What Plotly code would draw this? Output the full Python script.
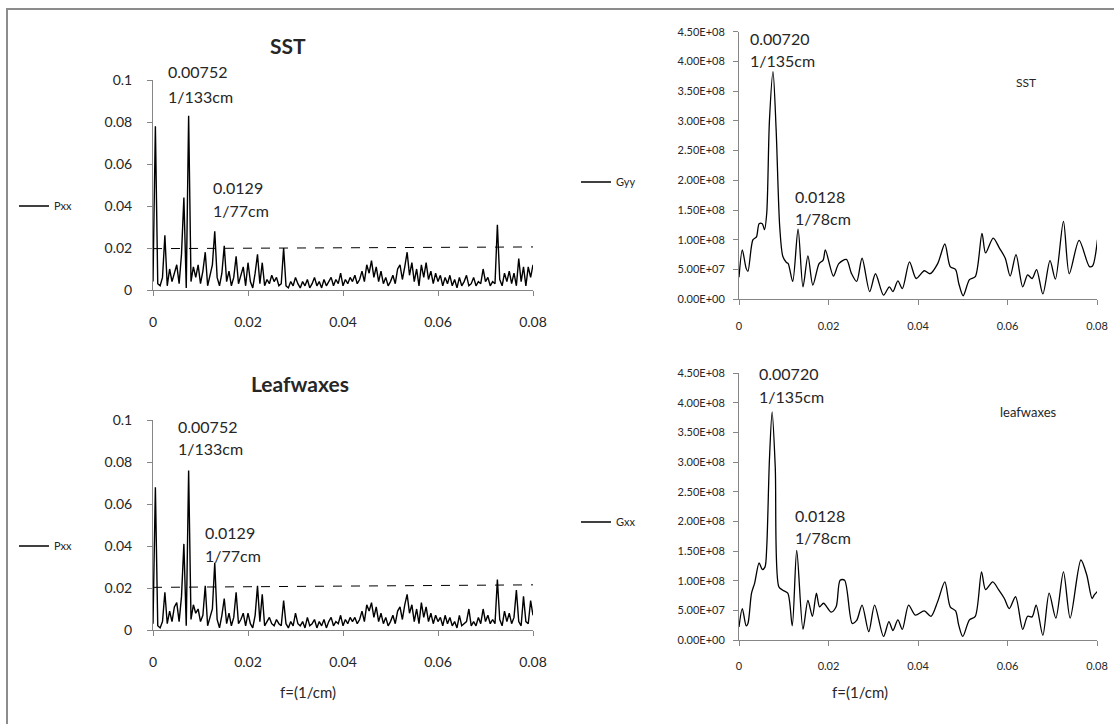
import plotly.graph_objects as go

W, H = 1114, 724
FONT = "Lato"
TXT = "#262626"
AX = "#868686"

# ---------------- data ----------------
FREQ_STEP = 0.0005  # periodogram frequency spacing (1/cm)

sst_pxx = [
    0.004, 0.078, 0.003, 0.002, 0.006, 0.026, 0.002, 0.010, 0.004, 0.008,
    0.012, 0.003, 0.017, 0.044, 0.001, 0.083, 0.004, 0.011, 0.006, 0.012,
    0.003, 0.009, 0.018, 0.002, 0.007, 0.012, 0.028, 0.006, 0.002, 0.008,
    0.021, 0.004, 0.009, 0.002, 0.006, 0.016, 0.003, 0.007, 0.011, 0.002,
    0.013, 0.004, 0.001, 0.008, 0.017, 0.003, 0.013, 0.002, 0.005, 0.003,
    0.007, 0.004, 0.006, 0.002, 0.003, 0.020, 0.002, 0.001, 0.004, 0.002,
    0.006, 0.003, 0.001, 0.004, 0.002, 0.005, 0.001, 0.003, 0.006, 0.002,
    0.004, 0.001, 0.005, 0.002, 0.004, 0.006, 0.002, 0.005, 0.003, 0.008,
    0.002, 0.005, 0.003, 0.006, 0.004, 0.007, 0.003, 0.005, 0.009, 0.004,
    0.012, 0.008, 0.014, 0.006, 0.011, 0.004, 0.009, 0.003, 0.006, 0.002,
    0.004, 0.007, 0.003, 0.010, 0.012, 0.005, 0.011, 0.018, 0.007, 0.013,
    0.004, 0.010, 0.002, 0.012, 0.006, 0.013, 0.005, 0.009, 0.003, 0.008,
    0.004, 0.007, 0.002, 0.006, 0.003, 0.007, 0.002, 0.005, 0.001, 0.006,
    0.002, 0.004, 0.007, 0.002, 0.003, 0.006, 0.002, 0.004, 0.003, 0.010,
    0.004, 0.006, 0.002, 0.004, 0.003, 0.031, 0.005, 0.002, 0.008, 0.004,
    0.009, 0.003, 0.008, 0.002, 0.015, 0.004, 0.011, 0.002, 0.011, 0.006,
    0.012,
]

leaf_pxx = [
    0.003, 0.068, 0.002, 0.001, 0.004, 0.018, 0.003, 0.009, 0.004, 0.011,
    0.013, 0.004, 0.016, 0.041, 0.002, 0.076, 0.005, 0.012, 0.008, 0.010,
    0.004, 0.007, 0.021, 0.002, 0.006, 0.010, 0.032, 0.005, 0.001, 0.007,
    0.015, 0.003, 0.008, 0.002, 0.006, 0.018, 0.003, 0.005, 0.008, 0.002,
    0.008, 0.003, 0.001, 0.007, 0.021, 0.004, 0.017, 0.002, 0.004, 0.006,
    0.003, 0.002, 0.005, 0.003, 0.002, 0.014, 0.003, 0.001, 0.004, 0.002,
    0.008, 0.003, 0.002, 0.004, 0.001, 0.006, 0.002, 0.003, 0.005, 0.001,
    0.004, 0.002, 0.005, 0.001, 0.004, 0.006, 0.002, 0.004, 0.003, 0.007,
    0.002, 0.005, 0.003, 0.006, 0.004, 0.006, 0.003, 0.005, 0.009, 0.004,
    0.012, 0.009, 0.013, 0.006, 0.011, 0.004, 0.008, 0.003, 0.006, 0.002,
    0.004, 0.007, 0.003, 0.009, 0.011, 0.005, 0.012, 0.017, 0.008, 0.012,
    0.004, 0.010, 0.003, 0.013, 0.006, 0.011, 0.004, 0.008, 0.003, 0.007,
    0.004, 0.006, 0.002, 0.007, 0.003, 0.006, 0.002, 0.004, 0.001, 0.007,
    0.002, 0.003, 0.004, 0.010, 0.002, 0.004, 0.002, 0.006, 0.003, 0.010,
    0.004, 0.007, 0.003, 0.005, 0.003, 0.024, 0.005, 0.002, 0.009, 0.004,
    0.008, 0.003, 0.006, 0.019, 0.004, 0.002, 0.016, 0.004, 0.003, 0.014,
    0.007,
]

# significance (dashed) lines: endpoints
sig_f = [0.0, 0.08]
sst_sig = [0.0197, 0.0205]
leaf_sig = [0.0203, 0.0215]

# Blackman-Tukey spectra (values in units of 1e8)
gyy_f = [0.0, 0.00074, 0.0016, 0.002, 0.0031, 0.0039, 0.0045, 0.0052, 0.0057, 0.0062,
         0.0068, 0.0076, 0.0083, 0.0091, 0.0098, 0.0106, 0.011, 0.012, 0.0132, 0.0143,
         0.0154, 0.0165, 0.0179, 0.0188, 0.0193, 0.0211, 0.0223, 0.024, 0.0251, 0.0263,
         0.0275, 0.0292, 0.0305, 0.0323, 0.0336, 0.0344, 0.0355, 0.0365, 0.0381, 0.0396,
         0.0414, 0.0427, 0.0444, 0.046, 0.0472, 0.0484, 0.0491, 0.0501, 0.0515, 0.0528,
         0.0543, 0.0551, 0.0568, 0.0582, 0.0595, 0.0606, 0.0619, 0.0634, 0.0645, 0.0655,
         0.0665, 0.0679, 0.0695, 0.0707, 0.0725, 0.0738, 0.076, 0.0783, 0.079, 0.0801]
gyy_v = [0.37, 0.83, 0.52, 0.47, 1.0, 1.05, 1.27, 1.27, 1.17, 1.45,
         3.0, 3.83, 2.85, 1.22, 0.72, 0.62, 0.6, 0.3, 1.18, 0.21,
         0.73, 0.24, 0.6, 0.66, 0.83, 0.39, 0.6, 0.67, 0.44, 0.3,
         0.69, 0.13, 0.43, 0.07, 0.21, 0.13, 0.31, 0.18, 0.63, 0.35,
         0.48, 0.43, 0.6, 0.93, 0.55, 0.5, 0.27, 0.06, 0.33, 0.38,
         1.11, 0.78, 1.03, 0.86, 0.69, 0.39, 0.75, 0.21, 0.41, 0.35,
         0.5, 0.09, 0.65, 0.34, 1.31, 0.43, 0.99, 0.55, 0.56, 1.0]

gxx_f = [0.0, 0.00074, 0.0016, 0.002, 0.0028, 0.0035, 0.0045, 0.0052, 0.0058, 0.0062,
         0.0068, 0.0074, 0.0081, 0.0089, 0.0098, 0.0109, 0.0119, 0.0129, 0.0143, 0.0154,
         0.0164, 0.0173, 0.018, 0.0189, 0.0206, 0.0217, 0.0226, 0.0236, 0.0253, 0.0263,
         0.0275, 0.029, 0.0303, 0.0323, 0.0335, 0.0344, 0.0355, 0.0365, 0.0379, 0.0394,
         0.0414, 0.0429, 0.0444, 0.046, 0.0472, 0.0484, 0.0491, 0.05, 0.0515, 0.0528,
         0.0542, 0.0551, 0.0567, 0.058, 0.0593, 0.0604, 0.0618, 0.0634, 0.0645, 0.0655,
         0.0664, 0.0679, 0.0693, 0.0708, 0.0725, 0.074, 0.0764, 0.0777, 0.0789, 0.0794,
         0.0801]
gxx_v = [0.22, 0.53, 0.24, 0.28, 0.79, 0.96, 1.3, 1.19, 1.23, 1.57,
         3.04, 3.85, 2.92, 0.9, 0.84, 0.79, 0.24, 1.51, 0.18, 0.67,
         0.4, 0.79, 0.56, 0.62, 0.47, 0.56, 1.01, 1.01, 0.28, 0.33,
         0.59, 0.14, 0.59, 0.06, 0.31, 0.16, 0.34, 0.18, 0.59, 0.42,
         0.49, 0.4, 0.65, 0.98, 0.56, 0.49, 0.25, 0.06, 0.34, 0.4,
         1.15, 0.85, 0.98, 0.85, 0.7, 0.53, 0.73, 0.18, 0.4, 0.39,
         0.59, 0.08, 0.79, 0.37, 1.15, 0.37, 1.35, 1.1, 0.7, 0.76,
         0.82]
G_UNIT = 1e8

# tick labels
x_ticks = [0, 0.02, 0.04, 0.06, 0.08]
x_ticktext = ["0", "0.02", "0.04", "0.06", "0.08"]
p_ticks = [0, 0.02, 0.04, 0.06, 0.08, 0.1]
p_ticktext = ["0", "0.02", "0.04", "0.06", "0.08", "0.1"]
g_ticks = [i * 0.5e8 for i in range(10)]
g_ticktext = ["0.00E+00", "5.00E+07", "1.00E+08", "1.50E+08", "2.00E+08",
              "2.50E+08", "3.00E+08", "3.50E+08", "4.00E+08", "4.50E+08"]

# ---------------- figure ----------------
def px(x):
    return x / W

def py(y):
    return 1 - y / H

fig = go.Figure()

freq = [i * FREQ_STEP for i in range(len(sst_pxx))]

fig.add_trace(go.Scatter(x=freq, y=sst_pxx, mode="lines", name="Pxx",
                         line=dict(color="black", width=1.4),
                         xaxis="x", yaxis="y", legend="legend"))
fig.add_trace(go.Scatter(x=sig_f, y=sst_sig, mode="lines", showlegend=False,
                         line=dict(color="black", width=1, dash="dash"),
                         xaxis="x", yaxis="y"))
fig.add_trace(go.Scatter(x=gyy_f, y=[v * G_UNIT for v in gyy_v], mode="lines", name="Gyy",
                         line=dict(color="black", width=1.3, shape="spline", smoothing=0.8),
                         xaxis="x2", yaxis="y2", legend="legend2"))
fig.add_trace(go.Scatter(x=freq, y=leaf_pxx, mode="lines", name="Pxx",
                         line=dict(color="black", width=1.4),
                         xaxis="x3", yaxis="y3", legend="legend3"))
fig.add_trace(go.Scatter(x=sig_f, y=leaf_sig, mode="lines", showlegend=False,
                         line=dict(color="black", width=1, dash="dash"),
                         xaxis="x3", yaxis="y3"))
fig.add_trace(go.Scatter(x=gxx_f, y=[v * G_UNIT for v in gxx_v], mode="lines", name="Gxx",
                         line=dict(color="black", width=1.3, shape="spline", smoothing=0.8),
                         xaxis="x4", yaxis="y4", legend="legend4"))

def xaxis(dom, anchor, size, standoff):
    return dict(domain=dom, anchor=anchor, range=[0, 0.08], tickvals=x_ticks,
                ticktext=x_ticktext, showgrid=False, zeroline=False, showline=True,
                linecolor=AX, linewidth=1, ticks="outside", ticklen=5, tickcolor=AX,
                tickfont=dict(family=FONT, size=size, color=TXT), ticklabelstandoff=standoff,
                automargin=False, fixedrange=True)

def yaxis(dom, anchor, rng, tv, tt, size, standoff):
    return dict(domain=dom, anchor=anchor, range=rng, tickvals=tv, ticktext=tt,
                showgrid=False, zeroline=False, showline=True, linecolor=AX, linewidth=1,
                ticks="outside", ticklen=5, tickcolor=AX,
                tickfont=dict(family=FONT, size=size, color=TXT),
                ticklabelstandoff=standoff, automargin=False, fixedrange=True)

LX = [px(153), px(533)]
RX = [px(739), px(1097)]

leg_common = dict(font=dict(family=FONT, size=11, color=TXT), bgcolor="rgba(0,0,0,0)",
                  xanchor="left", yanchor="middle", borderwidth=0, itemwidth=30)

fig.update_layout(
    template="none",
    width=W, height=H,
    margin=dict(l=0, r=0, t=0, b=0, pad=0, autoexpand=False),
    paper_bgcolor="white", plot_bgcolor="white",
    font=dict(family=FONT, color=TXT),
    xaxis=xaxis(LX, "y", 14, 14),
    yaxis=yaxis([py(290), py(80)], "x", [0, 0.1], p_ticks, p_ticktext, 14, 12),
    xaxis2=xaxis(RX, "y2", 11, 11),
    yaxis2=yaxis([py(299.3), py(31.7)], "x2", [0, 4.5e8], g_ticks, g_ticktext, 11, 6),
    xaxis3=xaxis(LX, "y3", 14, 14),
    yaxis3=yaxis([py(630), py(420)], "x3", [0, 0.1], p_ticks, p_ticktext, 14, 12),
    xaxis4=xaxis(RX, "y4", 11, 11),
    yaxis4=yaxis([py(640), py(373.3)], "x4", [0, 4.5e8], g_ticks, g_ticktext, 11, 6),
    legend=dict(x=px(14), y=py(206), **leg_common),
    legend2=dict(x=px(576), y=py(182), **leg_common),
    legend3=dict(x=px(14), y=py(546), **leg_common),
    legend4=dict(x=px(576), y=py(522), **leg_common),
    showlegend=True,
)

# outer frame
fig.add_shape(type="rect", xref="paper", yref="paper",
              x0=px(7), x1=px(1125), y0=py(735), y1=py(9),
              line=dict(color="#8c8c8c", width=2), fillcolor="rgba(0,0,0,0)")

def ann(text, x, y, size=16, xanchor="left", bold=False):
    fig.add_annotation(text=f"<b>{text}</b>" if bold else text, xref="paper", yref="paper",
                       x=px(x), y=py(y), xanchor=xanchor, yanchor="middle",
                       showarrow=False, font=dict(family=FONT, size=size, color=TXT))

# titles
ann("SST", 288, 45, size=21, xanchor="center", bold=True)
ann("Leafwaxes", 300, 383, size=21, xanchor="center", bold=True)

# peak labels - top left
ann("0.00752", 166, 72)
ann("1/133cm", 166, 96)
ann("0.0129", 211, 187)
ann("1/77cm", 211, 210)
# top right
ann("0.00720", 748, 38)
ann("1/135cm", 748, 60)
ann("0.0128", 793, 197)
ann("1/78cm", 793, 218)
ann("SST", 1026, 83, size=12, xanchor="center")
# bottom left
ann("0.00752", 176, 426)
ann("1/133cm", 176, 448)
ann("0.0129", 203, 532)
ann("1/77cm", 203, 555)
# bottom right
ann("0.00720", 757, 373)
ann("1/135cm", 757, 396)
ann("0.0128", 793, 515)
ann("1/78cm", 793, 537)
ann("leafwaxes", 1028, 412, size=13, xanchor="center")

# axis titles
ann("f=(1/cm)", 308, 692, size=15, xanchor="center")
ann("f=(1/cm)", 860, 692, size=15, xanchor="center")

fig.write_html("out.html", include_plotlyjs=True, config={"displayModeBar": False})
